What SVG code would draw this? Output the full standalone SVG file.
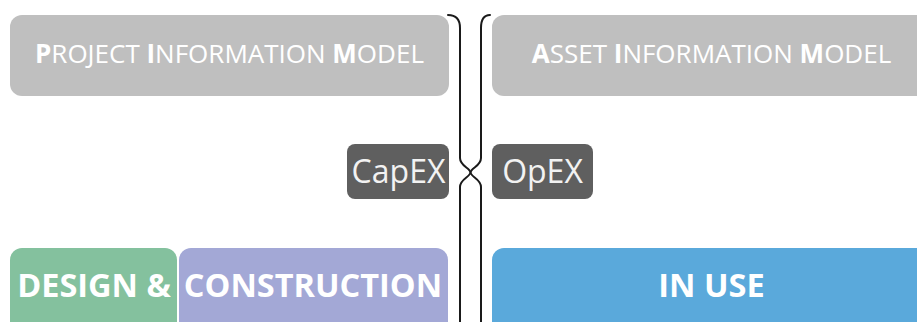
<svg xmlns="http://www.w3.org/2000/svg" width="917" height="322" viewBox="0 0 917 322">
  <style>
    text { font-family: "Open Sans", "Liberation Sans", sans-serif; text-anchor: middle; }
    .model { fill: #bfbfbf; }
    .model-t { fill: #ffffff; font-size: 26px; font-weight: 400; }
    .model-t .b { font-weight: 700; }
    .cost { fill: #5f5f5f; }
    .cost-t { fill: #f2f2f2; font-size: 32px; font-weight: 400; }
    .phase-t { fill: #ffffff; font-size: 32.5px; font-weight: 700; }
    .brace { fill: none; stroke: #1a1a1a; stroke-width: 2; stroke-linecap: round; }
  </style>
  <rect width="917" height="322" fill="#ffffff"/>

  <g id="pim">
    <rect class="model" x="10" y="15" width="439" height="81" rx="12"/>
    <text class="model-t" x="229.5" y="63"><tspan class="b">P</tspan>ROJECT <tspan class="b">I</tspan>NFORMATION <tspan class="b">M</tspan>ODEL</text>
  </g>

  <g id="aim">
    <rect class="model" x="492" y="15" width="439" height="81" rx="12"/>
    <text class="model-t" x="711.5" y="63"><tspan class="b">A</tspan>SSET <tspan class="b">I</tspan>NFORMATION <tspan class="b">M</tspan>ODEL</text>
  </g>

  <g id="capex">
    <rect class="cost" x="347" y="144" width="102" height="55" rx="8"/>
    <text class="cost-t" x="398.5" y="183">CapEX</text>
  </g>

  <g id="opex">
    <rect class="cost" x="492" y="144" width="101" height="55" rx="8"/>
    <text class="cost-t" x="542.5" y="183">OpEX</text>
  </g>

  <g id="design">
    <rect x="10" y="248" width="167" height="90" rx="12" fill="#84c19e"/>
    <text class="phase-t" x="94" y="297">DESIGN &amp;</text>
  </g>

  <g id="construction">
    <rect x="179" y="248" width="269" height="90" rx="12" fill="#a3a8d6"/>
    <text class="phase-t" x="313" y="297">CONSTRUCTION</text>
  </g>

  <g id="in-use">
    <rect x="492" y="248" width="439" height="90" rx="12" fill="#5aa9db"/>
    <text class="phase-t" x="711.5" y="297">IN USE</text>
  </g>

  <g id="connectors">
    <path class="brace" d="M448,15 C456,15 460,19 460,28 V158 C460,166 470,168 470.5,172.5 C470,177 460,179 460,187 V330"/>
    <path class="brace" d="M490,15 C484,15 481,19 481,28 V158 C481,166 471,168 470.5,172.5 C471,177 481,179 481,187 V330"/>
  </g>
</svg>
